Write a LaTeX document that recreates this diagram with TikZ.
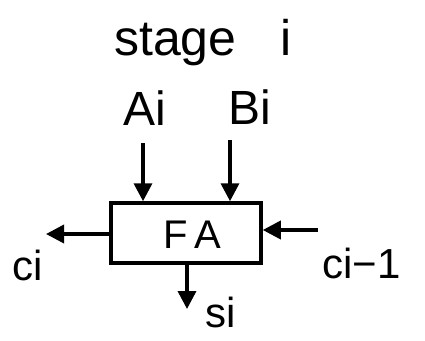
\documentclass[tikz,border=0pt]{standalone}
\usepackage{fontspec}
\setmainfont{Liberation Sans}
\usetikzlibrary{arrows.meta}
\begin{document}
\begin{tikzpicture}[x=1pt,y=-1pt,
  lbl/.style={inner sep=0pt,anchor=base west},
  wire/.style={line width=3.5pt,-{Triangle[length=18pt,width=18pt]}},
  fabox/.style={draw,line width=3.5pt,minimum width=150pt,minimum height=60pt,inner sep=0pt}]
\useasboundingbox (0,0) rectangle (425,340);
\node[lbl,font=\fontsize{50}{50}\selectfont] (title) at (114,55) {stage\hspace{30pt} i};
\node[lbl,font=\fontsize{48}{48}\selectfont] (a) at (123,125) {Ai};
\node[lbl,font=\fontsize{48}{48}\selectfont] (b) at (228,124) {Bi};
\node[fabox] (fa) at (186,233) {};
\node[lbl,font=\fontsize{40}{40}\selectfont] (falbl) at (163,248) {F\,A};
\node[lbl,font=\fontsize{42}{42}\selectfont] (co) at (12,280) {ci};
\node[lbl,font=\fontsize{42}{42}\selectfont] (cin) at (322,278) {ci−1};
\node[lbl,font=\fontsize{42}{42}\selectfont] (s) at (205,327) {si};
\coordinate (atop) at (143,143);
\coordinate (btop) at (230,140);
\coordinate (cout) at (46,234);
\coordinate (cinstart) at (318,230);
\coordinate (send) at (187,309);
\draw[wire] (atop) -- (atop |- fa.north);
\draw[wire] (btop) -- (btop |- fa.north);
\draw[wire] (fa.west |- cout) -- (cout);
\draw[wire] (cinstart) -- (cinstart -| fa.east);
\draw[wire] (send |- fa.south) -- (send);
\end{tikzpicture}
\end{document}
